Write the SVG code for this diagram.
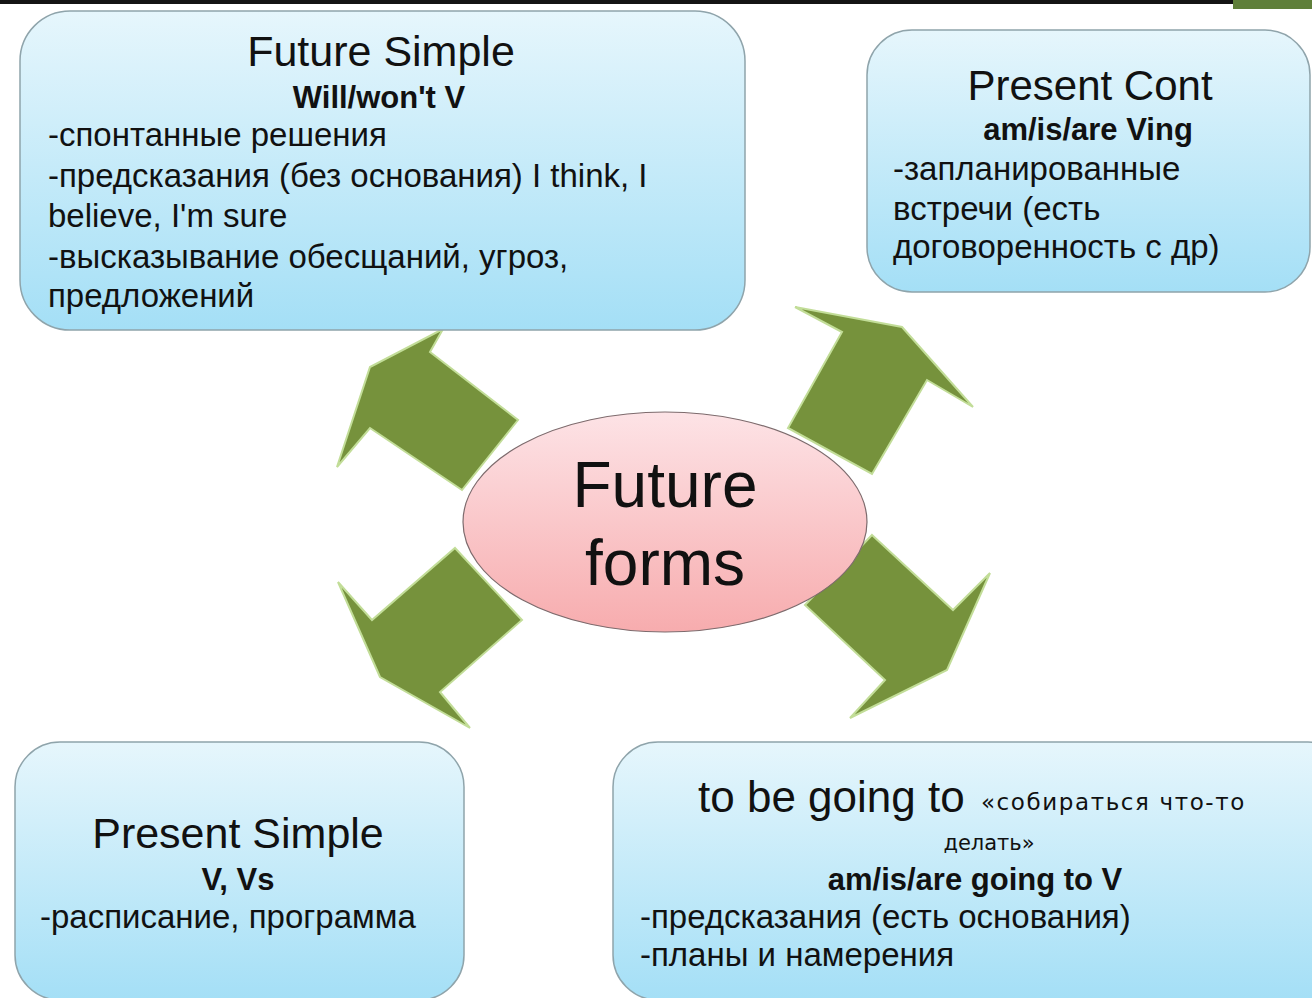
<svg xmlns="http://www.w3.org/2000/svg" width="1312" height="998" viewBox="0 0 1312 998">
<defs>
<linearGradient id="boxGrad" x1="0" y1="0" x2="0" y2="1">
<stop offset="0" stop-color="#e6f6fc"/>
<stop offset="1" stop-color="#a4dff6"/>
</linearGradient>
<linearGradient id="ellGrad" x1="0" y1="0" x2="0" y2="1">
<stop offset="0" stop-color="#fde3e6"/>
<stop offset="1" stop-color="#f7acae"/>
</linearGradient>
<style>
.box{fill:url(#boxGrad);stroke:#8fa4ab;stroke-width:1.5}
.arrow{fill:#76923c;stroke:#c2dd98;stroke-width:2;stroke-linejoin:miter}
text{font-family:"Liberation Sans","Noto Sans",Arial,sans-serif;fill:#111}
.title{font-size:43px;text-anchor:middle}
.sub{font-size:31px;font-weight:bold;text-anchor:middle}
.body{font-size:33px}
.small{font-family:"DejaVu Sans","Liberation Sans",sans-serif;font-size:22px}
.center{font-size:64px;text-anchor:middle}
</style>
</defs>
<rect x="0" y="0" width="1312" height="998" fill="#ffffff"/>
<rect x="0" y="0" width="1312" height="4" fill="#141414"/>
<rect x="1233" y="0" width="79" height="9" fill="#5f7f3a"/>

<g id="connectors">
<polygon class="arrow" points="443,329 430,352 518,420 462,490 370,428 337,467 370,367"/>
<polygon class="arrow" points="795,307 902,327 973,407 927,380 872,474 788,428 842,332"/>
<polygon class="arrow" points="455,548 522,620 440,692 470,728 380,677 338,582 372,620"/>
<polygon class="arrow" points="872,535 953,610 990,573 947,670 850,718 885,680 805,605"/>
</g>

<g id="node-future-simple">
<rect class="box" x="20" y="11" width="725" height="319" rx="50" ry="50"/>
<text class="title" x="381" y="66">Future Simple</text>
<text class="sub" x="379" y="108">Will/won't V</text>
<text class="body" x="48" y="146">-спонтанные решения</text>
<text class="body" x="48" y="187">-предсказания (без основания) I think, I</text>
<text class="body" x="48" y="227">believe, I'm sure</text>
<text class="body" x="48" y="268">-высказывание обесщаний, угроз,</text>
<text class="body" x="48" y="307">предложений</text>
</g>

<g id="node-present-cont">
<rect class="box" x="867" y="30" width="443" height="262" rx="45" ry="45"/>
<text class="title" x="1090" y="100" style="font-size:42px">Present Cont</text>
<text class="sub" x="1088" y="140">am/is/are Ving</text>
<text class="body" x="893" y="180">-запланированные</text>
<text class="body" x="893" y="220">встречи (есть</text>
<text class="body" x="893" y="258">договоренность с др)</text>
</g>

<g id="node-center">
<ellipse cx="665" cy="522" rx="202" ry="110" fill="url(#ellGrad)" stroke="#7d6b6d" stroke-width="1.2"/>
<text class="center" x="665" y="507">Future</text>
<text class="center" x="665" y="585">forms</text>
</g>

<g id="node-present-simple">
<rect class="box" x="15" y="742" width="449" height="258" rx="45" ry="45"/>
<text class="title" x="238" y="848">Present Simple</text>
<text class="sub" x="238" y="890">V, Vs</text>
<text class="body" x="40" y="928">-расписание, программа</text>
</g>

<g id="node-going-to">
<rect class="box" x="613" y="742" width="740" height="258" rx="45" ry="45"/>
<text x="698" y="812" style="font-size:44px">to be going to <tspan class="small" dx="4" dy="-2" style="font-size:23px;letter-spacing:1.6px">«собираться что-то</tspan></text>
<text class="small" x="989" y="850" style="text-anchor:middle;font-size:21px">делать»</text>
<text class="sub" x="975" y="890">am/is/are going to V</text>
<text class="body" x="640" y="928">-предсказания (есть основания)</text>
<text class="body" x="640" y="966">-планы и намерения</text>
</g>
</svg>
